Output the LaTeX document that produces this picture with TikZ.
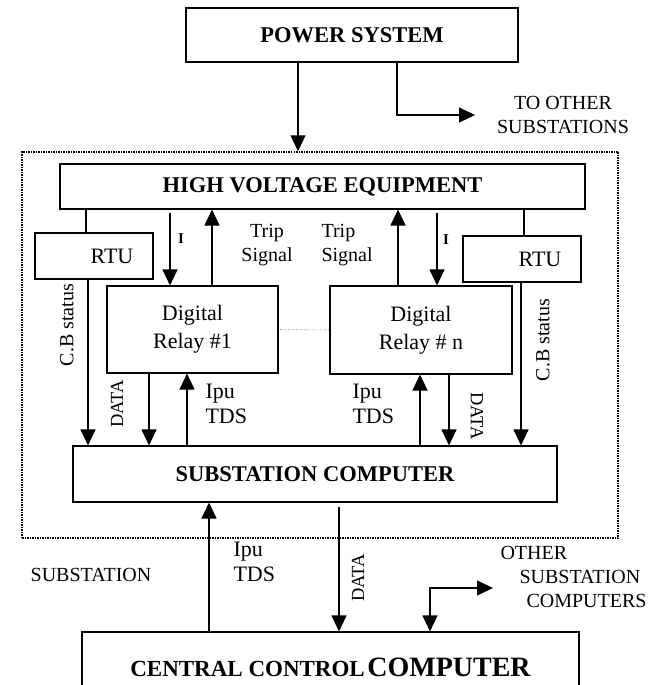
\documentclass[tikz,border=0pt]{standalone}
\usepackage{fontspec}
\setmainfont{Liberation Serif}
\usetikzlibrary{arrows.meta, positioning}

\begin{document}
\begin{tikzpicture}[
  x=1pt, y=-1pt,
  >={Triangle[length=16pt,width=15pt]},
  line width=1.1pt,
  block/.style={draw, inner sep=0pt},
  headbox/.style={block, font=\fontsize{22.5}{27}\selectfont\bfseries},
  relaybox/.style={block, font=\fontsize{22}{28}\selectfont, align=center},
  rtubox/.style={block, minimum width=118pt, minimum height=46pt,
                 font=\fontsize{22}{26}\selectfont},
  lbl/.style={font=\fontsize{20}{24}\selectfont, align=center, inner sep=0pt},
  iplbl/.style={font=\fontsize{22}{25}\selectfont, align=left, anchor=west, inner sep=0pt},
  vlbl/.style={font=\fontsize{18.5}{20}\selectfont, inner sep=0pt},
  curlbl/.style={font=\fontsize{15}{18}\selectfont\bfseries, inner sep=0pt}
]
\useasboundingbox (0,0) rectangle (650,685);

% Power system
\node[headbox, minimum width=332pt, minimum height=54pt] (power) at (352,35) {POWER SYSTEM};

% Substation frame
\node[draw, line width=1.5pt, dash pattern=on 1.5pt off 1pt,
      minimum width=596pt, minimum height=386pt] (stn) at (320,345) {};

% Boxes inside the substation
\node[headbox, minimum width=525pt, minimum height=45pt] (hv) at (322.5,186.5) {HIGH VOLTAGE EQUIPMENT};
\node[rtubox] (rtuL) at (94,256) {\hspace*{36pt}RTU};
\node[rtubox] (rtuR) at (522,259) {\hspace*{36pt}RTU};
\node[relaybox, minimum width=171pt, minimum height=87pt] (relA) at (192.5,329.5) {Digital\\Relay \#1};
\node[relaybox, minimum width=182pt, minimum height=88pt] (relN) at (421,330) {Digital\\Relay \# n};
\node[headbox, minimum width=484pt, minimum height=56pt] (sub) at (315,474) {SUBSTATION COMPUTER};

% Central control
\node[block, minimum width=497pt, minimum height=70pt, font=\bfseries] (cen) at (330.5,667)
  {{\fontsize{23}{27}\selectfont CENTRAL CONTROL} {\fontsize{28}{32}\selectfont COMPUTER}};

% x positions of the connectors
\coordinate (xPow)   at (298,0);
\coordinate (xBr)    at (397,0);
\coordinate (toOther) at (475,115);
\coordinate (xRtuL)  at (86,0);
\coordinate (xRtuR)  at (524,0);
\coordinate (xIA)    at (170,0);
\coordinate (xTripA) at (212,0);
\coordinate (xTripN) at (398,0);
\coordinate (xIN)    at (437,0);
\coordinate (xCbL)   at (88,0);
\coordinate (xDataA) at (149,0);
\coordinate (xIpuA)  at (187,0);
\coordinate (xIpuN)  at (420,0);
\coordinate (xDataN) at (449,0);
\coordinate (xCbR)   at (521,0);
\coordinate (xIpuC)  at (209,0);
\coordinate (xDataC) at (339,0);
\coordinate (xOther) at (430,0);
\coordinate (toOtherCmp) at (493,588);

% Power feed
\draw[->] (power.south -| xPow) -- (stn.north -| xPow);
\draw[->] (power.south -| xBr) |- (toOther);
\node[lbl] (toOtherTxt) at (563,115) {TO OTHER\\SUBSTATIONS};

% HV equipment to RTUs
\draw (hv.south -| xRtuL) -- (rtuL.north -| xRtuL);
\draw (hv.south -| xRtuR) -- (rtuR.north -| xRtuR);

% Currents and trip signals
\draw[->, shorten <=3pt] (hv.south -| xIA) -- (relA.north -| xIA);
\draw[->] (relA.north -| xTripA) -- (hv.south -| xTripA);
\draw[->] (relN.north -| xTripN) -- (hv.south -| xTripN);
\draw[->, shorten <=3pt] (hv.south -| xIN) -- (relN.north -| xIN);
\node[curlbl] (iA) at (181,239) {I};
\node[curlbl] (iN) at (446,240) {I};
\node[lbl] (tripA) at (267,245) {Trip\\Signal};
\node[lbl, align=left, anchor=west] (tripN) at (321,245) {Trip\\Signal};

% Relays dotted link
\draw[densely dotted, gray, line width=0.6pt] (relA.east) -- (relN.west);

% Down to the substation computer
\draw[->] (rtuL.south -| xCbL) -- (sub.north -| xCbL);
\draw[->] (relA.south -| xDataA) -- (sub.north -| xDataA);
\draw[->] (sub.north -| xIpuA) -- (relA.south -| xIpuA);
\draw[->] (sub.north -| xIpuN) -- (relN.south -| xIpuN);
\draw[->] (relN.south -| xDataN) -- (sub.north -| xDataN);
\draw[->] (rtuR.south -| xCbR) -- (sub.north -| xCbR);
\node[lbl, rotate=90] (cbA) at (67,325) {C.B status};
\node[lbl, rotate=90] (cbN) at (543,340) {C.B status};
\node[vlbl, rotate=90] (dataA) at (117,404) {DATA};
\node[vlbl, rotate=-90] (dataN) at (477,416) {DATA};
\node[iplbl] (ipuA) at (205,404) {Ipu\\TDS};
\node[iplbl] (ipuN) at (352,404) {Ipu\\TDS};

% Central control links
\draw[->] (cen.north -| xIpuC) -- (sub.south -| xIpuC);
\draw[->, shorten <=4pt] (sub.south -| xDataC) -- (cen.north -| xDataC);
\draw[<->] (cen.north -| xOther) |- (toOtherCmp);
\node[iplbl] (ipuC) at (233,562) {Ipu\\TDS};
\node[vlbl, rotate=90] (dataC) at (358,578) {DATA};
\node[lbl] (stnTxt) at (91,575) {SUBSTATION};
\node[lbl, align=left, anchor=west] (otherTxt) at (500,577)
  {OTHER\\\hspace*{19pt}SUBSTATION\\\hspace*{26pt}COMPUTERS};

\end{tikzpicture}
\end{document}
